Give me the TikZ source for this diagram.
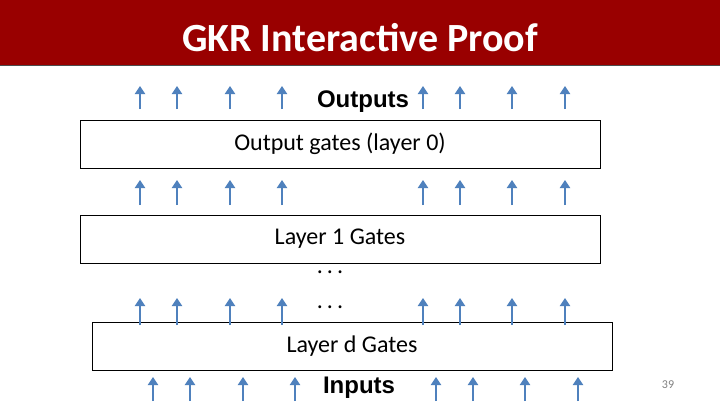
\documentclass[tikz,border=0pt]{standalone}
\usepackage{fontspec}
\setmainfont{Carlito}
\newfontfamily\arialf{Liberation Sans}
\usetikzlibrary{arrows.meta}
\definecolor{titlered}{HTML}{990000}
\definecolor{arrblue}{HTML}{4F81BD}
\begin{document}
\begin{tikzpicture}[x=1pt,y=-1pt,
  box/.style={draw=black,line width=0.8pt,fill=white,minimum width=520pt,minimum height=48pt,inner sep=0pt,font=\fontsize{24}{28}\selectfont},
  up/.style={draw=arrblue,line width=2.5pt,-{Triangle[length=8pt,width=10pt]}},
  lbl/.style={font=\arialf\bfseries\fontsize{24}{28}\selectfont}]
\useasboundingbox (0,0) rectangle (720,405);
\fill[white] (0,0) rectangle (720,405);
\fill[titlered] (0,0) rectangle (720,65);
\draw[gray!60!black,line width=0.8pt] (0,65) -- (720,65);
\node[text=white,font=\bfseries\fontsize{40}{46}\selectfont] (title) at (360,38) {GKR Interactive Proof};
\node[box] (b0) at (340,144) {Output gates (layer 0)};
\node[box] (b1) at (340,239) {Layer 1 Gates};
\node[box] (bd) at (352,346) {Layer d Gates};
\node[lbl] (out) at (363,102) {Outputs};
\node[lbl] (in) at (359,388) {Inputs};
\node[font=\fontsize{24}{28}\selectfont] (d1) at (330,272) {.\,.\,.};
\node[font=\fontsize{24}{28}\selectfont] (d2) at (330,307) {.\,.\,.};
\node[text=gray,font=\fontsize{12}{14}\selectfont] (pg) at (668,385) {39};
\foreach \r/\ya/\yb/\dx in {1/109/86/0,2/205/180/0,3/325/298/0,4/401/377/13}{
  \foreach \i/\x in {1/140,2/177,3/230,4/282,5/423,6/460,7/512,8/565}{
    \coordinate (s\r\i) at (\x+\dx,\ya);
    \coordinate (e\r\i) at (\x+\dx,\yb);
    \draw[up] (s\r\i) -- (e\r\i);
  }}
\end{tikzpicture}
\end{document}
